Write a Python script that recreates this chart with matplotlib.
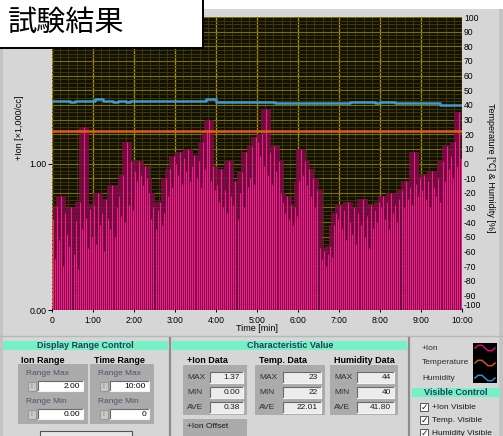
import matplotlib
matplotlib.use("Agg")
import matplotlib.pyplot as plt
from matplotlib.patches import Rectangle
from matplotlib.lines import Line2D
from matplotlib.ticker import MultipleLocator, FixedLocator
import numpy as np

plt.rcParams["axes.unicode_minus"] = False

# ---------------- data ----------------
# +Ion concentration [x1,000/cc], one reading every 3 s over 10 minutes
ion_step_s = 3
ion_values = [
    0.62, 0.35, 0.71, 0.48, 0.78, 0.30, 0.66, 0.52, 0.44, 0.70, 0.38, 0.61, 0.28, 0.74, 0.55, 1.25, 0.63, 0.42, 0.69, 0.50,
    0.72, 0.45, 0.80, 0.58, 0.66, 0.40, 0.76, 0.62, 0.55, 0.85, 0.50, 0.70, 0.78, 0.64, 0.92, 0.60, 1.15, 0.72, 1.02, 0.68,
    0.95, 0.88, 1.02, 0.92, 0.85, 0.98, 0.90, 0.80, 0.62, 0.70, 0.55, 0.68, 0.74, 0.58, 0.66, 0.90, 0.78, 0.96, 0.84, 1.05,
    1.00, 0.92, 1.08, 0.86, 1.04, 0.95, 1.10, 0.88, 0.98, 1.06, 0.90, 1.02, 0.84, 1.15, 0.96, 1.22, 1.30, 0.88, 0.98, 0.82,
    0.85, 0.74, 0.96, 0.70, 0.82, 0.66, 1.02, 0.78, 0.72, 0.88, 0.62, 0.80, 0.94, 0.70, 1.08, 0.84, 0.90, 1.12, 0.86, 1.18,
    1.15, 1.05, 1.20, 0.98, 1.37, 0.92, 1.08, 0.86, 1.12, 0.95, 1.02, 0.80, 0.74, 0.66, 0.78, 0.62, 0.72, 0.58, 0.70, 0.64,
    0.88, 1.10, 0.92, 1.02, 0.85, 0.96, 0.78, 0.90, 0.70, 0.82, 0.42, 0.35, 0.40, 0.30, 0.38, 0.44, 0.36, 0.58, 0.66, 0.62,
    0.72, 0.55, 0.68, 0.48, 0.74, 0.60, 0.52, 0.70, 0.45, 0.66, 0.58, 0.76, 0.50, 0.64, 0.42, 0.72, 0.56, 0.68, 0.60, 0.74,
    0.70, 0.78, 0.62, 0.74, 0.55, 0.80, 0.66, 0.72, 0.60, 0.76, 0.82, 0.70, 0.88, 0.76, 0.84, 0.72, 1.08, 0.86, 0.78, 0.90,
    0.82, 0.92, 0.76, 0.88, 0.70, 0.95, 0.84, 0.78, 0.90, 0.74, 1.02, 0.88, 1.12, 0.96, 1.05, 0.90, 1.15, 0.98, 1.35, 1.04,
]

# Temperature [C] (constant through the run)
temp_t = [0.0, 10.0]
temp_v = [22, 22]

# Humidity [%], change points in minutes
hum_t = [0.0, 0.45, 0.55, 1.05, 1.25, 1.50, 1.60, 1.80, 1.90, 3.75, 4.00, 5.45, 7.27, 7.88, 8.00, 8.37, 9.46, 10.0]
hum_v = [43, 42, 43, 44, 43, 42, 43, 42, 43, 44, 42, 41, 42, 41, 42, 41, 40, 40]

time_ticks = [0, 1, 2, 3, 4, 5, 6, 7, 8, 9, 10]
time_labels = ["0", "1:00", "2:00", "3:00", "4:00", "5:00", "6:00", "7:00", "8:00", "9:00", "10:00"]
ion_ticks = [0, 1]
ion_labels = ["0.00", "1.00"]
right_ticks = list(range(-100, 101, 10))

stats_ion = ["1.37", "0.00", "0.38"]
stats_temp = ["23", "22", "22.01"]
stats_hum = ["44", "40", "41.80"]

# ---------------- figure helpers (pixel coordinates, origin top-left) ----------------
W, H = 503, 436
fig = plt.figure(figsize=(W / 100, H / 100), dpi=100)
fig.patch.set_facecolor("white")

UI = ["Liberation Sans", "Noto Sans CJK JP"]
PANEL = "#d6d6d6"
GROUP = "#ababab"
AQUA = "#74f2c6"


def fx(x):
    return x / W


def fy(y):
    return 1 - y / H


def rect(x, y, w, h, fc, ec="none", lw=0.0, z=1):
    fig.add_artist(Rectangle((fx(x), fy(y + h)), w / W, h / H, transform=fig.transFigure,
                             facecolor=fc, edgecolor=ec, linewidth=lw, zorder=z))


def sunken(x, y, w, h, fc, z=3):
    rect(x, y, w, h, fc, z=z)
    fig.add_artist(Line2D([fx(x), fx(x), fx(x + w)], [fy(y + h), fy(y), fy(y)],
                          transform=fig.transFigure, color="#6a6a6a", lw=0.8, zorder=z + 0.1))
    fig.add_artist(Line2D([fx(x), fx(x + w), fx(x + w)], [fy(y + h), fy(y + h), fy(y)],
                          transform=fig.transFigure, color="#f4f4f4", lw=0.8, zorder=z + 0.1))


def label(x, y, s, size=6.5, weight="normal", color="black", ha="left", va="center", z=5, **kw):
    fig.text(fx(x), fy(y), s, fontsize=size, fontweight=weight, color=color, ha=ha, va=va,
             family=UI, zorder=z, **kw)


# ---------------- panel background ----------------
rect(0, 9, W, H - 9, PANEL, z=0.5)
rect(0, 9, 3, H - 9, "#c4c4c4", z=0.6)
rect(499, 9, 4, H - 9, "#c4c4c4", z=0.6)
fig.add_artist(Line2D([0, 1], [fy(336), fy(336)], transform=fig.transFigure,
                      color="#b8b8b8", lw=1.0, zorder=0.7))

# ---------------- chart ----------------
ax_l, ax_t, ax_r, ax_b = 52, 17, 462, 310
axrect = [fx(ax_l), fy(ax_b), (ax_r - ax_l) / W, (ax_b - ax_t) / H]

# background mesh
axg = fig.add_axes(axrect, zorder=1)
axg.set_facecolor("#121100")
axg.set_xlim(0, 10)
axg.set_ylim(0, 2)
axg.xaxis.set_major_locator(MultipleLocator(1))
axg.xaxis.set_minor_locator(MultipleLocator(0.2))
axg.yaxis.set_major_locator(MultipleLocator(0.1))
axg.yaxis.set_minor_locator(MultipleLocator(0.025))
axg.grid(which="minor", color="#3e3800", lw=0.7)
axg.grid(which="major", axis="y", color="#7d6e00", lw=0.8)
axg.grid(which="major", axis="x", color="#a89000", lw=0.9)
axg.tick_params(which="both", length=0, labelbottom=False, labelleft=False)
for s in axg.spines.values():
    s.set_visible(False)

# +Ion trace
ax = fig.add_axes(axrect, zorder=2)
ax.patch.set_alpha(0)
ion = np.array(ion_values)
t_ion = (np.arange(len(ion)) + 0.5) * ion_step_s / 60.0
envelope = np.array([ion[max(i - 2, 0):i + 3].max() for i in range(len(ion))])
ax.fill_between(t_ion, 0, envelope, step="mid", color="#7e0b49", alpha=0.85, lw=0, zorder=2)
ax.vlines(t_ion, 0, ion, colors="#ff1493", linewidth=0.75, zorder=3)
ax.set_xlim(0, 10)
ax.set_ylim(0, 2)
ax.set_xticks(time_ticks)
ax.set_xticklabels(time_labels)
ax.set_yticks(ion_ticks)
ax.set_yticklabels(ion_labels)
ax.tick_params(axis="x", length=3, width=0.7, pad=2.5, labelsize=6.2, direction="inout")
ax.tick_params(axis="y", length=3, width=0.7, pad=1, labelsize=6.3)
for lab in ax.get_xticklabels() + ax.get_yticklabels():
    lab.set_family(UI)
for s in ax.spines.values():
    s.set_visible(False)

# Temperature and humidity on the right scale
ax2 = ax.twinx()
ax2.set_ylim(-100, 100)
ax2.plot(temp_t, temp_v, color="#e0620f", lw=1.8, zorder=4)
ax2.plot(hum_t, hum_v, color="#3c9ad6", lw=1.8, drawstyle="steps-post", zorder=4)
ax2.yaxis.set_major_locator(FixedLocator(right_ticks))
ax2.tick_params(axis="y", length=0, pad=1.5, labelsize=6.2)
for lab in ax2.get_yticklabels():
    lab.set_family(UI)
ax2.get_yticklabels()[0].set_verticalalignment("bottom")
for s in ax2.spines.values():
    s.set_visible(False)

label(257, 328, "Time [min]", size=6.5, ha="center")
label(19, 128, "+Ion [\u00d71,000/cc]", size=6.5, ha="center", rotation=90)
label(490, 168, "Temperature [\u2103] & Humidity [%]", size=6.5, ha="center", rotation=270)

# ---------------- title box ----------------
rect(-2, -2, 205, 50, "white", ec="black", lw=1.4, z=10)
fig.text(fx(8), fy(23), "\u8a66\u9a13\u7d50\u679c", fontsize=21, family="Noto Sans CJK JP",
         ha="left", va="center", color="black", zorder=11)

# ---------------- Display Range Control ----------------
rect(3, 341, 165, 9, AQUA, z=2)
label(85, 345.5, "Display Range Control", size=6.5, weight="bold", color="#24405a", ha="center")
label(21, 360, "Ion Range", size=6.5, weight="bold")
label(94, 360, "Time Range", size=6.5, weight="bold")

for gx, gw, vmax, vmin, fxo in [(18, 70, "2.00", "0.00", 38), (90, 64, "10:00", "0", 110)]:
    rect(gx, 364, gw, 60, GROUP, z=2)
    label(gx + 8, 373, "Range Max", size=6.0, color="#4a5468")
    label(gx + 8, 401, "Range Min", size=6.0, color="#4a5468")
    for fy_top, val in [(381, vmax), (409, vmin)]:
        rect(fxo - 10, fy_top + 1, 8, 9, "#c8c8c8", ec="#8a8a8a", lw=0.5, z=3)
        label(fxo - 6, fy_top + 5.5, "\u2195", size=5.5, color="#7a7a7a", ha="center")
        sunken(fxo, fy_top, gx + gw - fxo - 5, 10, "white")
        label(gx + gw - 8, fy_top + 5.5, val, size=6.0, ha="right")

rect(40, 431, 92, 8, "#e6e6e6", ec="#555555", lw=0.8, z=2)

# separators
for sx in (169.5, 408.5):
    fig.add_artist(Line2D([fx(sx), fx(sx)], [fy(338), fy(436)], transform=fig.transFigure,
                          color="#8c8c8c", lw=1.6, zorder=2))

# ---------------- Characteristic Value ----------------
rect(172, 341, 235, 9, AQUA, z=2)
label(290, 345.5, "Characteristic Value", size=6.5, weight="bold", color="#24405a", ha="center")

columns = [
    (183, 64, 210, "+Ion Data", stats_ion),
    (255, 70, 283, "Temp. Data", stats_temp),
    (330, 68, 357, "Humidity Data", stats_hum),
]
for bx, bw, fieldx, head, vals in columns:
    label(bx + 4, 360, head, size=6.5, weight="bold")
    rect(bx, 365, bw, 50, GROUP, z=2)
    for i, (name, val) in enumerate(zip(["MAX", "MIN", "AVE"], vals)):
        yy = 372 + 15 * i
        label(bx + 4, yy + 5.5, name, size=6.0, color="#2e2e2e")
        sunken(fieldx, yy, bx + bw - fieldx - 4, 11, "#ececec")
        label(bx + bw - 7, yy + 5.5, val, size=6.0, ha="right", color="#1a1a1a")

rect(183, 419, 64, 20, GROUP, z=2)
label(187, 426, "+Ion Offset", size=6.0, color="#1a1a1a")

# ---------------- legend ----------------
rect(473, 343, 24, 40, "black", z=3)
legend_rows = [("+Ion", "#d0106e", 348), ("Temperature", "#c8580f", 363), ("Humidity", "#2e8fd0", 378)]
wave_x = [0.0, 0.15, 0.35, 0.5, 0.65, 0.85, 1.0]
wave_y = [0.0, 0.9, 0.9, 0.0, -0.9, -0.9, 0.0]
for name, col, yy in legend_rows:
    label(422, yy, name, size=6.0, color="#2e2e2e")
    xs = [fx(475 + 20 * v) for v in wave_x]
    ys = [fy(yy - 3 * v) for v in wave_y]
    fig.add_artist(Line2D(xs, ys, transform=fig.transFigure, color=col, lw=1.1, zorder=4))

# ---------------- Visible Control ----------------
rect(412, 388, 88, 9, AQUA, z=2)
label(456, 392.5, "Visible Control", size=6.5, weight="bold", color="#24405a", ha="center")
for i, name in enumerate(["+Ion Visible", "Temp. Visible", "Humidity Visible"]):
    yy = 407 + 13 * i
    rect(420, yy - 4, 8, 8, "white", ec="#555555", lw=0.7, z=3)
    fig.text(fx(424), fy(yy), "\u2713", fontsize=6.5, ha="center", va="center",
             family="DejaVu Sans", fontweight="bold", color="#202020", zorder=5)
    label(432, yy, name, size=6.0, color="#1a1a1a")

fig.savefig("out.png", dpi=100, facecolor=fig.get_facecolor())
